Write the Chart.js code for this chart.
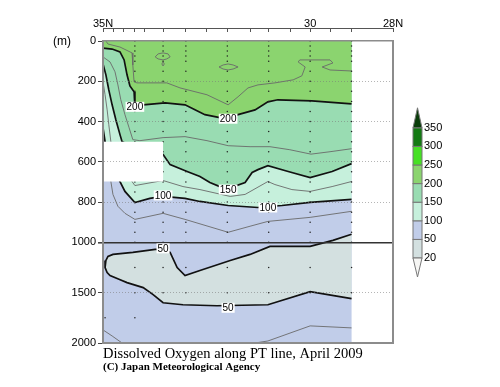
<!DOCTYPE html>
<html lang="en">
<head>
<meta charset="UTF-8">
<title>Dissolved Oxygen along PT line, April 2009</title>
<script src="https://cdn.jsdelivr.net/npm/chart.js"></script>
<style>
  body { margin: 0; background: #fff; }
  #wrap { width: 500px; height: 387px; position: relative; }
</style>
</head>
<body>
<div id="wrap"><canvas id="doChart"></canvas></div>
<script>
// colour classes (umol/kg)
const levels = [20, 50, 100, 150, 200, 250, 300, 350];
const levelColors = ['#f6f6f4', '#d3e0e0', '#c1cde9', '#c6f0dc', '#99dcb2', '#8bd46f', '#46e024', '#137a13', '#0a3d0a'];

// stations (deg N) and sample depths (m)
const stationTicks = [35, 34.75, 34.5, 34.23, 34, 33.55, 33, 32.5, 32, 31.45, 31, 30.47, 30, 29.5, 29, 28];
const castStations = [34.23, 33.55, 33.0, 32.0, 31.0, 30.0, 29.0];
const castDepths = [0, 25, 50, 75, 100, 150, 200, 250, 300, 350, 400, 450, 500, 550, 600, 650, 700, 750, 800, 850, 900, 950, 1000, 1250, 1500];
const deepCast = [[34.95, 1750], [34.23, 1750]];

const depthTicks = [0, 200, 400, 600, 800, 1000, 1500, 2000];
const latLabels = {35: '35N', 30: '30', 28: '28N'};

// contours, [lat, depth] from 35N southward
const c225 = [[34.93, 0], [34.88, 15], [34.59, 30], [34.30, 59], [34.28, 119], [34.25, 203], [34.18, 208], [33.46, 208], [33.14, 233], [32.49, 267], [31.98, 317], [31.74, 277], [31.5, 233], [31.26, 218], [30.85, 208], [30.41, 193], [30.2, 173], [30.12, 129], [30.29, 104], [30.25, 94], [29.52, 94], [29.45, 109], [29.71, 129], [29.52, 144], [29.0, 149]];
const loopA = [[33.74, 79], [33.67, 64], [33.55, 59], [33.43, 64], [33.38, 79], [33.46, 89], [33.55, 94], [33.67, 89], [33.74, 79]];
const loopA2 = [[33.58, 114], [33.55, 104], [33.52, 114], [33.55, 124], [33.58, 114]];
const loopB = [[32.2, 129], [32.1, 119], [31.98, 114], [31.86, 119], [31.74, 129], [31.86, 139], [31.98, 144], [32.1, 139], [32.2, 129]];
const c200 = [[35.0, 35], [34.78, 40], [34.59, 54], [34.49, 94], [34.42, 168], [34.35, 223], [34.25, 252], [34.23, 292], [34.23, 327], [34.03, 317], [33.5, 307], [33.02, 317], [32.78, 342], [32.54, 366], [32.18, 381], [31.98, 381], [31.74, 366], [31.33, 342], [31.02, 302], [30.78, 292], [29.96, 297], [29.0, 312]];
const c175 = [[35.0, 79], [34.83, 104], [34.71, 153], [34.64, 218], [34.57, 292], [34.47, 366], [34.37, 431], [34.28, 490], [34.11, 495], [33.55, 480], [33.02, 475], [32.49, 495], [31.98, 520], [31.45, 525], [30.97, 525], [30.49, 540], [29.98, 562], [29.52, 550], [29.0, 535]];
const c150 = [[35.0, 114], [34.93, 168], [34.86, 243], [34.78, 317], [34.69, 391], [34.59, 465], [34.54, 500], [34.2, 530], [33.8, 550], [33.55, 564], [33.38, 614], [32.97, 648], [32.66, 673], [32.42, 703], [32.18, 723], [31.98, 733], [31.57, 703], [31.4, 653], [31.26, 639], [31.02, 619], [30.53, 648], [30.0, 678], [29.47, 648], [29.0, 609]];
const c125 = [[35.0, 203], [34.95, 267], [34.9, 342], [34.86, 416], [34.81, 500], [34.5, 650], [34.3, 698], [34.23, 718], [33.55, 693], [33.07, 723], [32.66, 738], [31.93, 772], [31.57, 762], [31.02, 698], [30.85, 713], [30.44, 738], [30.0, 747], [29.47, 723], [29.0, 698]];
const c100 = [[35.0, 431], [34.95, 500], [34.8, 600], [34.59, 698], [34.47, 747], [34.23, 802], [33.87, 782], [33.55, 772], [33.02, 782], [32.66, 797], [31.98, 817], [31.26, 827], [30.68, 817], [30.0, 802], [29.0, 787]];
const c75 = [[35.0, 600], [34.81, 698], [34.76, 762], [34.64, 821], [34.47, 856], [34.23, 886], [33.55, 856], [33.02, 886], [31.98, 950], [31.45, 920], [31.02, 896], [30.0, 876], [29.0, 846]];
const c50 = [[29.0, 960], [29.45, 990], [30.0, 1040], [30.97, 1040], [31.45, 1120], [31.93, 1180], [32.66, 1280], [33.02, 1330], [33.21, 1250], [33.38, 1100], [33.55, 1070], [33.74, 1070], [34.28, 1100], [34.76, 1120], [34.88, 1140], [34.93, 1180], [34.95, 1250], [34.9, 1300], [34.83, 1330], [34.6, 1370], [34.42, 1400], [34.03, 1450], [33.79, 1520], [33.55, 1600], [33.07, 1620], [32.25, 1630], [31.02, 1620], [30.0, 1490], [29.0, 1560]];
const cDeepR = [[31.33, 2000], [31.02, 1980], [30.0, 1830], [29.0, 1850]];
const cDeepL = [[35.0, 1870], [34.78, 1930], [34.54, 2000]];
const noData = [[35.05, 500], [33.55, 500], [33.55, 698], [35.05, 698]];
const section = [[35, 0], [29, 0], [29, 2000], [35, 2000]];

const contourLabels = [['200', 34.23, 327], ['200', 31.98, 386], ['150', 31.98, 738], ['100', 33.55, 767], ['100', 31.02, 827], ['50', 33.55, 1060], ['50', 31.98, 1650]];

// lower 1000 m is drawn at half scale
const ty = d => d <= 1000 ? d : 1000 + (d - 1000) / 2;
const fromTy = v => v <= 1000 ? v : 1000 + (v - 1000) * 2;
const pts = arr => arr.map(([lat, d]) => ({x: lat, y: ty(d)}));
const surface = [[35, 0], [29, 0]];

function area(data, color) {
    return {data: pts(data), showLine: true, fill: 'shape', backgroundColor: color,
        borderColor: 'rgba(0,0,0,0)', borderWidth: 0, pointRadius: 0, tension: 0};
}
function contour(data, thick) {
    return {data: pts(data), showLine: true, fill: false, borderColor: thick ? '#111' : '#6a6a6a',
        borderWidth: thick ? 1.7 : 0.9, pointRadius: 0, tension: 0};
}

const dots = [];
castStations.forEach(lat => castDepths.forEach(d => dots.push([lat, d])));
deepCast.forEach(p => dots.push(p));

// painting order, bottom first; the no-data box hides everything under it
const layers = [
    area(section, levelColors[2]),
    area(surface.concat(c100.slice().reverse()), levelColors[3]),
    area(surface.concat(c150.slice().reverse()), levelColors[4]),
    area(surface.concat(c200.slice().reverse()), levelColors[5]),
    area(c50, levelColors[1]),
    contour(c225, false), contour(loopA, false), contour(loopA2, false), contour(loopB, false),
    contour(c175, false), contour(c125, false), contour(c75, false),
    contour(cDeepR, false), contour(cDeepL, false),
    contour(c200, true), contour(c150, true), contour(c100, true), contour(c50, true),
    {data: pts(dots), showLine: false, pointRadius: 0.75, backgroundColor: '#222', borderWidth: 0},
    area(noData, '#ffffff')
];
layers.forEach((ds, i) => { ds.order = layers.length - i; });

const decor = {
    id: 'decor',
    afterDraw(chart) {
        const {ctx, scales: {x, y}} = chart;
        ctx.save();
        ctx.textAlign = 'center';
        ctx.textBaseline = 'middle';
        // contour labels
        ctx.font = '10px "Liberation Sans"';
        contourLabels.forEach(([txt, lat, d]) => {
            const px = x.getPixelForValue(lat);
            const py = y.getPixelForValue(ty(d));
            const w = ctx.measureText(txt).width + 2;
            ctx.fillStyle = '#fff';
            ctx.fillRect(px - w / 2, py - 5, w, 10);
            ctx.fillStyle = '#000';
            ctx.fillText(txt, px, py + 0.5);
        });
        // unit
        ctx.font = '12px "Liberation Sans"';
        ctx.fillText('(m)', 62, 42);

        // colour bar
        const bx = 413, bw = 9, bottom = 258, step = 18.6;
        const top = bottom - (levels.length - 1) * step;
        ctx.strokeStyle = '#777';
        ctx.lineWidth = 1;
        for (let i = 0; i < levels.length - 1; i++) {
            const y0 = bottom - (i + 1) * step;
            ctx.fillStyle = levelColors[i + 1];
            ctx.fillRect(bx, y0, bw, step);
            ctx.strokeRect(bx, y0, bw, step);
        }
        ctx.beginPath();
        ctx.moveTo(bx, top); ctx.lineTo(bx + bw / 2, top - 20); ctx.lineTo(bx + bw, top); ctx.closePath();
        ctx.fillStyle = levelColors[levelColors.length - 1];
        ctx.fill(); ctx.stroke();
        ctx.beginPath();
        ctx.moveTo(bx, bottom); ctx.lineTo(bx + bw / 2, bottom + 19); ctx.lineTo(bx + bw, bottom); ctx.closePath();
        ctx.fillStyle = levelColors[0];
        ctx.fill(); ctx.stroke();
        ctx.font = '11px "Liberation Sans"';
        ctx.textAlign = 'left';
        ctx.fillStyle = '#000';
        levels.forEach((v, i) => ctx.fillText(String(v), bx + bw + 2, bottom - i * step));
        ctx.restore();
    }
};

const tickFont = {family: 'Liberation Sans', size: 11};
const frame = '#8c8c8c';

new Chart(document.getElementById('doChart'), {
    type: 'scatter',
    data: {datasets: layers},
    options: {
        responsive: true,
        maintainAspectRatio: false,
        animation: false,
        events: [],
        layout: {padding: {left: 0, right: 107, top: 0, bottom: 14.6}},
        plugins: {
            legend: {display: false},
            tooltip: {enabled: false},
            title: {
                display: true, text: 'Dissolved Oxygen along PT line, April 2009',
                position: 'bottom', align: 'start', fullSize: false, weight: 1400, color: '#000',
                font: {family: 'Liberation Serif', size: 14.5, weight: 'normal'}, padding: {top: 2, bottom: 0}
            },
            subtitle: {
                display: true, text: '(C) Japan Meteorological Agency',
                position: 'bottom', align: 'start', fullSize: false, color: '#000',
                font: {family: 'Liberation Serif', size: 11, weight: 'bold', lineHeight: 1.0}, padding: {top: -1, bottom: 0}
            }
        },
        scales: {
            x: {
                type: 'linear', position: 'top', min: 28, max: 35, reverse: true, weight: 0,
                afterBuildTicks: s => { s.ticks = stationTicks.map(v => ({value: v})); },
                afterFit: s => { s.height = 13; },
                ticks: {display: false},
                grid: {drawOnChartArea: false, tickLength: 13, tickBorderDash: [4, 9], tickColor: '#555', tickWidth: 1},
                border: {color: frame, width: 1.5, z: 1}
            },
            x2: {
                type: 'linear', position: 'top', min: 28, max: 35, reverse: true, weight: 1,
                afterBuildTicks: s => { s.ticks = [35, 30, 28].map(v => ({value: v})); },
                afterFit: s => { s.height = 28; },
                ticks: {autoSkip: false, maxRotation: 0, padding: 0, color: '#000',
                    font: {family: 'Liberation Sans', size: 11, lineHeight: 0.8},
                    callback: v => latLabels[v] || ''},
                grid: {drawOnChartArea: false, drawTicks: false},
                border: {color: '#555', width: 1}
            },
            xb: {
                type: 'linear', position: 'bottom', min: 28, max: 35, reverse: true,
                afterFit: s => { s.height = 0; },
                ticks: {display: false},
                grid: {drawOnChartArea: false, drawTicks: false},
                border: {color: frame, width: 2, z: 1}
            },
            y: {
                type: 'linear', position: 'left', min: 0, max: 1500, reverse: true,
                afterBuildTicks: s => { s.ticks = depthTicks.map(d => ({value: ty(d)})); },
                afterFit: s => { s.width = 103; },
                ticks: {autoSkip: false, padding: 2, color: '#000', font: tickFont, callback: v => String(fromTy(v))},
                grid: {
                    z: 1, tickLength: 5, tickColor: '#444', tickBorderDash: [],
                    color: c => {
                        const v = c.tick ? c.tick.value : -1;
                        if (v === 0 || v === 1500) return 'rgba(0,0,0,0)';
                        return v === 1000 ? '#333' : 'rgba(120,120,120,0.55)';
                    },
                    lineWidth: c => (c.tick && c.tick.value === 1000 ? 1.6 : 1)
                },
                border: {color: frame, width: 2, z: 1, dash: c => (c.tick && c.tick.value === 1000 ? [] : [1, 2])}
            },
            yr: {
                type: 'linear', position: 'right', min: 0, max: 1500, reverse: true,
                afterFit: s => { s.width = 0; },
                ticks: {display: false},
                grid: {drawOnChartArea: false, drawTicks: false},
                border: {color: frame, width: 2, z: 1}
            }
        }
    },
    plugins: [decor]
});
</script>
</body>
</html>
